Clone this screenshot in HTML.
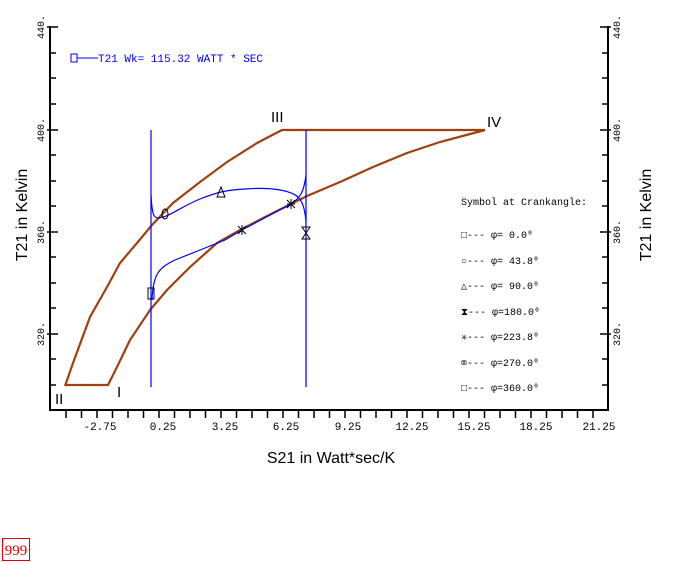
<!DOCTYPE html>
<html><head><meta charset="utf-8"><style>
html,body{margin:0;padding:0;background:#fff;width:674px;height:562px;overflow:hidden}
svg{display:block}
</style></head><body>
<svg width="674" height="562" xmlns="http://www.w3.org/2000/svg">
<g stroke="#000" stroke-width="2" fill="none">
<line x1="50" y1="26" x2="50" y2="411"/>
<line x1="608" y1="26" x2="608" y2="411"/>
<line x1="49" y1="410" x2="609" y2="410"/>
</g>
<g stroke="#000" stroke-width="1.5">
<path d="M47 27h11M50 53h6M50 78h6M50 104h6M47 130h11M50 155h6M50 181h6M50 206h6M47 232h11M50 257h6M50 283h6M50 308h6M47 334h11M50 359h6M50 385h6"/>
<path d="M611 27h-11M608 53h-6M608 78h-6M608 104h-6M611 130h-11M608 155h-6M608 181h-6M608 206h-6M611 232h-11M608 257h-6M608 283h-6M608 308h-6M611 334h-11M608 359h-6M608 385h-6"/>
<path d="M66 410v8M81.5 410v8M97 410v8M112.5 410v8M128 410v8M143.5 410v8M159 410v8M174.5 410v8M190 410v8M205.5 410v8M221 410v8M236.5 410v8M252 410v8M267.5 410v8M283 410v8M298.5 410v8M314 410v8M329.5 410v8M345 410v8M360.5 410v8M376 410v8M391.5 410v8M407 410v8M422.5 410v8M438 410v8M453.5 410v8M469 410v8M484.5 410v8M500 410v8M515.5 410v8M531 410v8M546.5 410v8M562 410v8M577.5 410v8M593 410v8"/>
</g>
<g font-family="Liberation Mono, monospace" font-size="11" fill="#000">
<text x="100" y="430" text-anchor="middle">-2.75</text>
<text x="163" y="430" text-anchor="middle">0.25</text>
<text x="225" y="430" text-anchor="middle">3.25</text>
<text x="286" y="430" text-anchor="middle">6.25</text>
<text x="348" y="430" text-anchor="middle">9.25</text>
<text x="412" y="430" text-anchor="middle">12.25</text>
<text x="474" y="430" text-anchor="middle">15.25</text>
<text x="536" y="430" text-anchor="middle">18.25</text>
<text x="599" y="430" text-anchor="middle">21.25</text>
<g font-size="10">
<text transform="translate(44,27) rotate(-90)" text-anchor="middle">440.</text>
<text transform="translate(44,130) rotate(-90)" text-anchor="middle">400.</text>
<text transform="translate(44,232) rotate(-90)" text-anchor="middle">360.</text>
<text transform="translate(44,334) rotate(-90)" text-anchor="middle">320.</text>
<text transform="translate(620,27) rotate(-90)" text-anchor="middle">440.</text>
<text transform="translate(620,130) rotate(-90)" text-anchor="middle">400.</text>
<text transform="translate(620,232) rotate(-90)" text-anchor="middle">360.</text>
<text transform="translate(620,334) rotate(-90)" text-anchor="middle">320.</text>
</g>
</g>
<g font-family="Liberation Sans, sans-serif" font-size="16" fill="#000">
<text transform="translate(27,215) rotate(-90)" text-anchor="middle">T21  in Kelvin</text>
<text transform="translate(651,215) rotate(-90)" text-anchor="middle">T21  in Kelvin</text>
<text x="331" y="463" text-anchor="middle">S21  in Watt*sec/K</text>
<text x="271" y="122" font-size="15">III</text>
<text x="487" y="127" font-size="15">IV</text>
<text x="117" y="397" font-size="15">I</text>
<text x="55" y="404" font-size="15">II</text>
</g>
<g stroke="#a0400f" stroke-width="2.2" fill="none">
<polyline points="65,386 73,363 90,317 107,287 120,263 137,243 152,225 173,203 200,182 227,162 257,143 282,130 485,130"/>
<polyline points="65,385 108,385 117,367 130,340 150,310 167,290 190,267 217,243 240,230 273,213 307,196 340,182 373,167 407,153 440,142 485,130"/>
</g>
<g stroke="#0000ff" stroke-width="1.2" fill="none">
<line x1="151" y1="130" x2="151" y2="387"/>
<line x1="306" y1="130" x2="306" y2="387"/>
<path d="M151,195 C152,212 153,218 158,218 C170,217 180,207 200,199 C215,193 225,190 245,189 C270,187 290,190 298,197 C303,202 305,210 306,222"/>
<path d="M152,300 C153,275 158,268 175,260 C190,254 210,246 225,240 L242,230 L270,215 L291,204 C300,198 304,192 306,175"/>
</g>
<g stroke="#000" stroke-width="1" fill="none">
<rect x="148" y="288" width="6" height="11"/>
<ellipse cx="165" cy="214" rx="3" ry="5"/>
<path d="M217,197 L221,187 L225,197 Z"/>
<path d="M302,227 h8 l-8,12 h8 Z"/>
<path d="M238,226 l8,8 M246,226 l-8,8 M242,225 v10"/>
<path d="M287,200 l8,8 M295,200 l-8,8 M291,199 v10 M287,204 h8"/>
</g>
<g font-family="Liberation Mono, monospace" font-size="11" fill="#0000ff">
<rect x="71" y="54" width="6" height="8" stroke="#0000ff" fill="none"/>
<line x1="77" y1="58" x2="98" y2="58" stroke="#0000ff"/>
<text x="98" y="62" textLength="165" lengthAdjust="spacingAndGlyphs">T21   Wk= 115.32 WATT * SEC</text>
</g>
<g font-family="Liberation Mono, monospace" font-size="10" fill="#000">
<text x="461" y="205" textLength="126" lengthAdjust="spacingAndGlyphs">Symbol at Crankangle:</text>
<text x="461" y="238">□--- φ=  0.0⁰</text>
<text x="461" y="264">○--- φ= 43.8⁰</text>
<text x="461" y="289">△--- φ= 90.0⁰</text>
<text x="461" y="315">⧗--- φ=180.0⁰</text>
<text x="461" y="340">✳--- φ=223.8⁰</text>
<text x="461" y="366">⌧--- φ=270.0⁰</text>
<text x="461" y="391">□--- φ=360.0⁰</text>
</g>
<rect x="2.5" y="538.5" width="27" height="22" fill="none" stroke="#e00000"/>
<text x="16" y="555" text-anchor="middle" font-family="Liberation Serif, serif" font-size="15" fill="#e00000">999</text>
</svg>
</body></html>
